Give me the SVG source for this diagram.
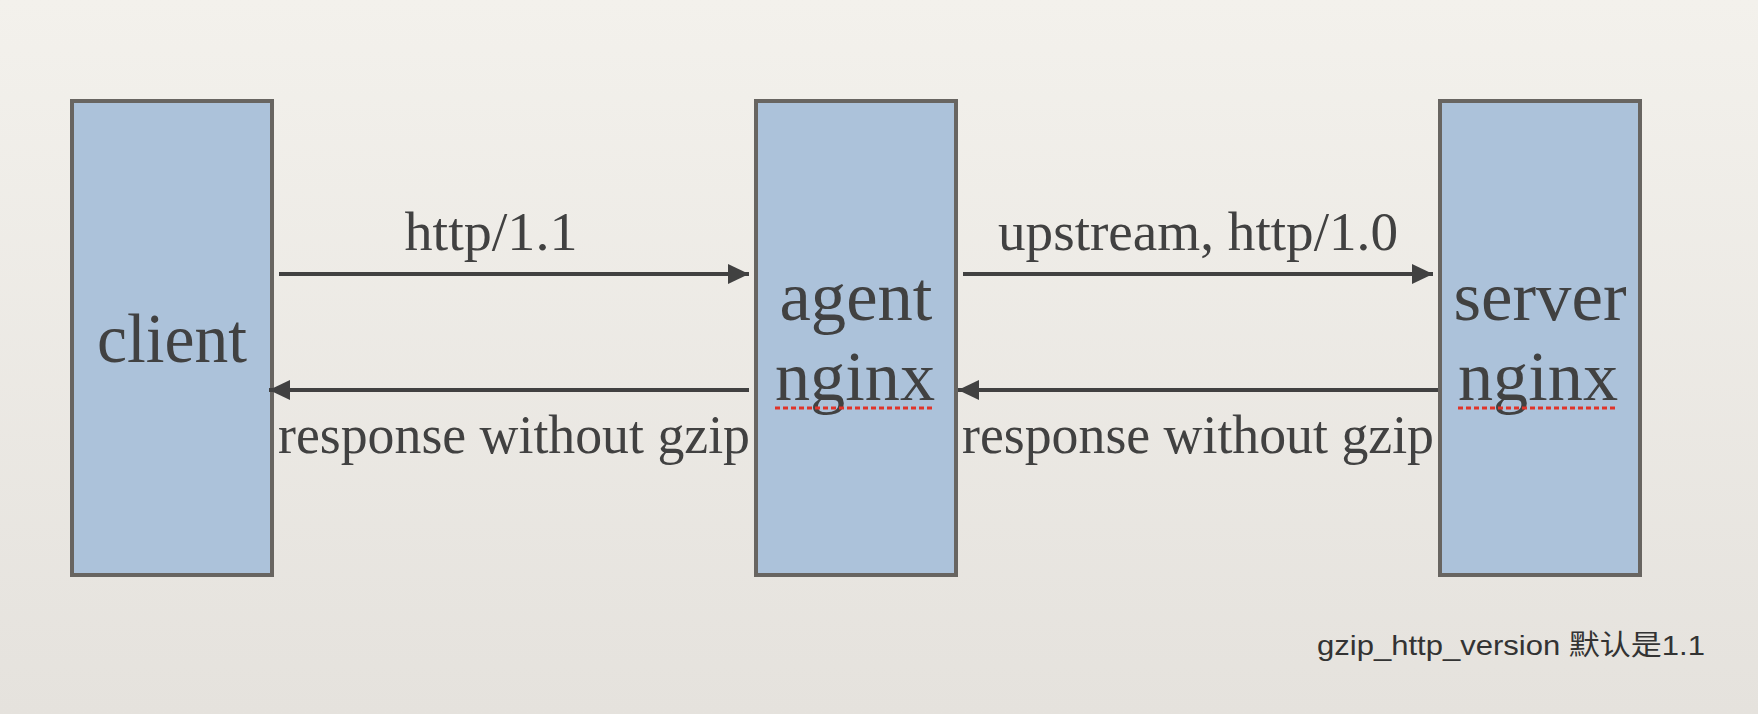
<svg xmlns="http://www.w3.org/2000/svg" width="1758" height="714" viewBox="0 0 1758 714">
  <defs>
    <linearGradient id="bg" x1="0" y1="0" x2="0" y2="1">
      <stop offset="0" stop-color="#f3f1ec"/>
      <stop offset="1" stop-color="#e5e2dd"/>
    </linearGradient>
    <marker id="arrow" markerUnits="userSpaceOnUse" markerWidth="21" markerHeight="20" refX="21" refY="10" orient="auto">
      <path d="M0,0 L21,10 L0,20 Z" fill="#414141"/>
    </marker>
    <style>
      .box { fill: #acc2da; stroke: #686561; stroke-width: 4; }
      .big { font-family: "Liberation Serif", "Times New Roman", serif; font-size: 70px; fill: #414141; text-anchor: middle; }
      .lbl { font-family: "Liberation Serif", "Times New Roman", serif; font-size: 54px; fill: #414141; text-anchor: middle; }
      .conn { stroke: #414141; stroke-width: 4; fill: none; marker-end: url(#arrow); }
      .spell { stroke: #e0342a; stroke-width: 3; stroke-dasharray: 5 3; fill: none; }
      .note { font-family: "Liberation Sans", Arial, "Noto Sans CJK SC", sans-serif; font-size: 28px; fill: #333333; }
    </style>
  </defs>
  <rect x="0" y="0" width="1758" height="714" fill="url(#bg)"/>

  <g id="client">
    <rect class="box" x="72" y="101" width="200" height="474"/>
    <text class="big" x="172" y="362" textLength="150" lengthAdjust="spacingAndGlyphs">client</text>
  </g>

  <g id="agent">
    <rect class="box" x="756" y="101" width="200" height="474"/>
    <text class="big" x="856" y="320" textLength="153" lengthAdjust="spacingAndGlyphs">agent</text>
    <text class="big" x="855" y="400" textLength="160" lengthAdjust="spacingAndGlyphs">nginx</text>
    <line class="spell" x1="775" y1="408" x2="934" y2="408"/>
  </g>

  <g id="server">
    <rect class="box" x="1440" y="101" width="200" height="474"/>
    <text class="big" x="1540" y="320" textLength="173" lengthAdjust="spacingAndGlyphs">server</text>
    <text class="big" x="1538" y="400" textLength="160" lengthAdjust="spacingAndGlyphs">nginx</text>
    <line class="spell" x1="1458" y1="408" x2="1617" y2="408"/>
  </g>

  <g id="connectors">
    <line class="conn" x1="279" y1="274" x2="749" y2="274"/>
    <line class="conn" x1="749" y1="390" x2="269" y2="390"/>
    <line class="conn" x1="963" y1="274" x2="1433" y2="274"/>
    <line class="conn" x1="1438" y1="390" x2="958" y2="390"/>
  </g>

  <g id="labels">
    <text class="lbl" x="491" y="250" textLength="173" lengthAdjust="spacingAndGlyphs">http/1.1</text>
    <text class="lbl" x="1198" y="250" textLength="400" lengthAdjust="spacingAndGlyphs">upstream, http/1.0</text>
    <text class="lbl" x="514" y="453" textLength="472" lengthAdjust="spacingAndGlyphs">response without gzip</text>
    <text class="lbl" x="1198" y="453" textLength="472" lengthAdjust="spacingAndGlyphs">response without gzip</text>
  </g>

  <text class="note" x="1317" y="655" textLength="388" lengthAdjust="spacingAndGlyphs">gzip_http_version 默认是1.1</text>
</svg>
